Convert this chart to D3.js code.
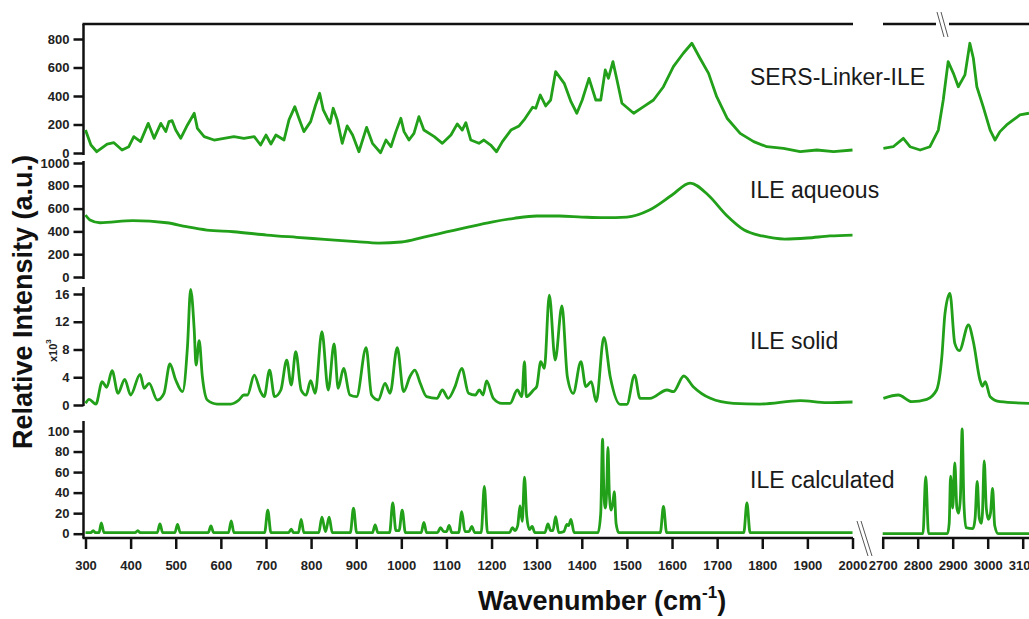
<!DOCTYPE html>
<html>
<head>
<meta charset="utf-8">
<script src="https://cdn.jsdelivr.net/npm/d3@7"></script>
<style>
  body { margin: 0; background: #fff; }
  svg text { font-family: "Liberation Sans", Arial, sans-serif; }
</style>
</head>
<body>
<svg id="chart" width="1029" height="619"></svg>
<script>
// spectra: [wavenumber, intensity]
const sersLeft = [[300,161],[312,56],[325,9],[348,63],[363,72],[381,21],[396,44],[407,115],[422,80],[439,208],[452,103],[467,208],[478,150],[485,220],[492,227],[500,161],[511,103],[526,197],[541,279],[548,173],[563,115],[585,91],[607,103],[629,115],[651,103],[674,115],[688,56],[700,126],[711,63],[722,126],[740,91],[751,232],[764,325],[773,244],[784,150],[799,220],[810,337],[819,419],[827,302],[836,244],[842,208],[849,314],[858,232],[869,68],[880,190],[892,126],[906,9],[923,180],[936,68],[954,2],[966,91],[977,44],[988,150],[999,244],[1006,150],[1017,91],[1028,138],[1039,255],[1050,161],[1073,115],[1091,68],[1110,126],[1124,204],[1135,161],[1143,213],[1154,91],[1172,68],[1183,91],[1198,56],[1211,9],[1224,80],[1243,161],[1261,190],[1272,232],[1291,321],[1298,314],[1308,407],[1320,330],[1331,372],[1342,571],[1361,489],[1376,360],[1389,279],[1401,372],[1416,524],[1431,372],[1442,372],[1452,583],[1459,524],[1469,641],[1478,512],[1489,349],[1515,279],[1537,325],[1559,372],[1581,465],[1603,606],[1625,700],[1644,770],[1662,665],[1681,559],[1699,395],[1722,244],[1751,138],[1781,80],[1810,44],[1847,33],[1884,9],[1921,21],[1958,9],[2000,21]];
const sersRight = [[2702,33],[2730,44],[2759,103],[2778,44],[2807,21],[2835,44],[2859,161],[2873,372],[2887,641],[2902,559],[2916,465],[2935,548],[2949,770],[2959,665],[2969,465],[2987,325],[3007,161],[3021,91],[3035,150],[3054,197],[3073,232],[3092,267],[3118,279]];

const aqueous = [[300,544],[310,500],[332,476],[405,494],[480,476],[524,441],[569,412],[628,397],[702,368],[768,348],[830,330],[900,310],[950,298],[1000,307],[1050,350],[1100,395],[1150,440],[1200,482],[1250,515],[1300,535],[1350,535],[1400,526],[1450,520],[1500,526],[1550,588],[1600,719],[1640,824],[1680,719],[1720,544],[1760,412],[1800,360],[1850,333],[1900,342],[1950,360],[2000,368]];

// x10^3
const solidLeft = [[300,0.24],[308,0.82],[323,0.14],[337,3.36],[347,2.55],[359,4.94],[372,1.69],[387,3.70],[400,1.44],[421,4.42],[430,2.40],[441,3.13],[459,0.72],[474,1.69],[487,5.91],[500,3.60],[515,1.92],[526,8.40],[533,16.67],[541,10.8],[545,5.76],[552,9.27],[559,4.08],[570,0.72],[592,0.14],[622,0.14],[640,0.72],[651,1.44],[659,1.44],[674,4.32],[688,1.92],[696,1.20],[708,5.04],[719,1.20],[733,2.16],[746,6.48],[756,2.88],[766,7.68],[778,2.16],[789,1.44],[799,3.50],[809,1.69],[824,10.56],[838,2.16],[851,8.79],[860,2.40],[872,5.28],[886,1.44],[901,1.20],[922,8.26],[934,1.44],[949,0.72],[964,3.13],[975,1.69],[991,8.26],[1005,1.92],[1019,4.08],[1030,5.04],[1042,3.13],[1056,1.20],[1079,0.96],[1091,2.16],[1104,0.96],[1119,2.64],[1134,5.28],[1149,1.69],[1164,1.44],[1173,2.16],[1181,1.44],[1189,3.46],[1204,0.96],[1223,0.24],[1241,0.24],[1257,2.16],[1267,1.20],[1273,6.24],[1277,1.20],[1293,2.16],[1300,2.64],[1309,6.24],[1317,5.28],[1328,15.85],[1341,6.48],[1356,14.27],[1368,4.08],[1381,1.69],[1398,6.24],[1409,2.64],[1421,3.36],[1432,0.48],[1449,9.76],[1463,4.08],[1485,0.10],[1500,0.10],[1517,4.32],[1529,0.96],[1551,0.96],[1589,2.16],[1603,1.92],[1626,4.18],[1647,2.64],[1685,0.96],[1736,0.24],[1795,0.14],[1884,0.62],[1943,0.33],[2000,0.43]];
const solidRight = [[2702,0.96],[2745,1.44],[2783,0.48],[2826,0.82],[2854,2.16],[2869,6.96],[2878,13.2],[2892,16.1],[2906,8.89],[2919,7.83],[2945,11.53],[2959,9.12],[2978,3.60],[2985,2.7],[2993,3.36],[3007,1.20],[3035,0.48],[3118,0.24]];

const calcLeft = [[300,1],[312,1],[317,3],[322,1],[330,1],[335,10.5],[341,1],[410,1],[416,3],[421,1],[459,1],[465,9.5],[471,1],[498,1],[504,9],[510,1],[572,1],[578,7.5],[584,1],[617,1],[623,12.5],[629,1],[697,1],[704,23],[711,1],[750,1],[756,4.5],[761,1],[772,1],[778,14],[784,1],[817,1],[824,16],[832,2],[840,16],[847,1],[887,1],[894,25],[901,1],[936,1],[942,8.5],[948,1],[974,1],[981,30],[988,3],[995,3],[1002,23],[1009,1],[1044,1],[1050,11],[1056,1],[1080,1],[1087,6],[1094,2],[1100,2],[1106,8],[1112,1],[1127,1],[1134,21.5],[1141,2],[1150,2],[1156,7],[1163,1],[1177,1],[1184,46],[1191,1],[1240,1],[1246,6],[1252,3],[1258,8],[1263,27],[1268,12],[1273,55],[1278,17],[1284,4],[1290,7],[1296,1],[1318,1],[1325,9.5],[1331,3],[1336,3],[1342,16.5],[1349,1],[1360,2],[1367,9],[1371,8],[1376,14],[1383,1],[1436,1],[1442,20],[1446,92],[1449,40],[1452,25],[1455,40],[1458,84],[1461,40],[1465,23],[1469,30],[1472,41],[1476,10],[1482,1],[1574,1],[1581,26.5],[1588,1],[1759,1],[1766,30],[1773,1],[2000,1]];
const calcRight = [[2700,0],[2815,0],[2823,55.5],[2831,0],[2885,0],[2890,10],[2894,56],[2900,25],[2906,69],[2912,25],[2917,20],[2922,35],[2927,102],[2932,30],[2938,6],[2958,5],[2964,15],[2970,51],[2976,15],[2982,10],[2985,20],[2990,71],[2996,25],[3002,14],[3008,20],[3014,44],[3020,8],[3030,0],[3118,0]];

const sersTicks = [0,200,400,600,800];
const aqueousTicks = [0,200,400,600,800,1000];
const solidTicks = [0,4,8,12,16];
const calcTicks = [0,20,40,60,80,100];
const xTicksLeft = d3.range(300, 2001, 100);
const xTicksRight = [2700,2800,2900,3000,3100];

const green = "#22a01a";
const svg = d3.select("#chart");

const xL = d3.scaleLinear().domain([300, 2000]).range([85.5, 852.5]);
const xR = d3.scaleLinear().domain([2700, 3100]).range([882.7, 1022.7]);
const axisX = 83.5;

const panels = [
  { left: sersLeft, right: sersRight, domain: [0, 800], range: [153, 39], seg: [24, 155], ticks: sersTicks, label: "SERS-Linker-ILE", labelY: 85, curve: d3.curveLinear },
  { left: aqueous, right: null, domain: [0, 1000], range: [277, 163], seg: [161, 279], ticks: aqueousTicks, label: "ILE aqueous", labelY: 198, curve: d3.curveMonotoneX },
  { left: solidLeft, right: solidRight, domain: [0, 16], range: [405, 294], seg: [287, 406], ticks: solidTicks, label: "ILE solid", labelY: 349, curve: d3.curveMonotoneX },
  { left: calcLeft, right: calcRight, domain: [0, 100], range: [533.7, 431], seg: [421, 538], ticks: calcTicks, label: "ILE calculated", labelY: 488, curve: d3.curveMonotoneX }
];

panels.forEach(function (p) {
  const y = d3.scaleLinear().domain(p.domain).range(p.range);

  const g = svg.append("g")
    .attr("transform", `translate(${axisX},0)`)
    .call(d3.axisLeft(y).tickValues(p.ticks).tickSize(10).tickPadding(4).tickFormat(d3.format("d")));
  g.select(".domain").remove();
  g.selectAll(".tick line").attr("stroke", "#111").attr("stroke-width", 2.5);
  g.selectAll(".tick text")
    .attr("fill", "#222")
    .style("font-size", "13px")
    .style("font-weight", "bold");

  svg.append("line")
    .attr("x1", axisX).attr("x2", axisX)
    .attr("y1", p.seg[0]).attr("y2", p.seg[1])
    .attr("stroke", "#111").attr("stroke-width", 2.5);

  const lineL = d3.line().x(d => xL(d[0])).y(d => y(d[1])).curve(p.curve);
  svg.append("path")
    .datum(p.left)
    .attr("d", lineL)
    .attr("fill", "none")
    .attr("stroke", green)
    .attr("stroke-width", 2.8)
    .attr("stroke-linejoin", "round");

  if (p.right) {
    const lineR = d3.line().x(d => xR(d[0])).y(d => y(d[1])).curve(p.curve);
    svg.append("path")
      .datum(p.right)
      .attr("d", lineR)
      .attr("fill", "none")
      .attr("stroke", green)
      .attr("stroke-width", 2.8)
      .attr("stroke-linejoin", "round");
  }

  svg.append("text")
    .attr("x", 750)
    .attr("y", p.labelY)
    .attr("fill", "#1a1a1a")
    .style("font-size", "23px")
    .text(p.label);
});

// bottom axis, two segments
function bottomAxis(scale, ticks, x0, x1) {
  const g = svg.append("g")
    .attr("transform", "translate(0,538)")
    .call(d3.axisBottom(scale).tickValues(ticks).tickSize(11).tickPadding(12).tickFormat(d3.format("d")));
  g.select(".domain").remove();
  g.selectAll(".tick line").attr("stroke", "#111").attr("stroke-width", 2.5);
  g.selectAll(".tick text")
    .attr("fill", "#222")
    .style("font-size", "13px")
    .style("font-weight", "bold");
  svg.append("line")
    .attr("x1", x0).attr("x2", x1)
    .attr("y1", 538).attr("y2", 538)
    .attr("stroke", "#111").attr("stroke-width", 2.5);
}
bottomAxis(xL, xTicksLeft, axisX - 1, 853);
bottomAxis(xR, xTicksRight, 882, 1029);

// top frame line with gaps
[[axisX - 1, 853], [883, 936], [949, 1029]].forEach(function (s) {
  svg.append("line")
    .attr("x1", s[0]).attr("x2", s[1])
    .attr("y1", 24).attr("y2", 24)
    .attr("stroke", "#111").attr("stroke-width", 2.5);
});

// break marks
[[857, 521, 868, 556], [861, 521, 872, 556], [937, 12, 944, 37], [941, 12, 948, 37]].forEach(function (b) {
  svg.append("line")
    .attr("x1", b[0]).attr("y1", b[1]).attr("x2", b[2]).attr("y2", b[3])
    .attr("stroke", "#555").attr("stroke-width", 1);
});

// x10^3 for the solid panel
const mult = svg.append("text")
  .attr("transform", "translate(57,362) rotate(-90)")
  .attr("fill", "#222")
  .style("font-size", "11px")
  .style("font-weight", "bold");
mult.append("tspan").text("x10");
mult.append("tspan").attr("dy", -6).style("font-size", "8px").text("3");

// axis titles
svg.append("text")
  .attr("transform", "translate(32,302) rotate(-90)")
  .attr("text-anchor", "middle")
  .attr("fill", "#111")
  .style("font-size", "27px")
  .style("font-weight", "bold")
  .text("Relative Intensity (a.u.)");

const xt = svg.append("text")
  .attr("x", 478)
  .attr("y", 610)
  .attr("fill", "#111")
  .style("font-size", "27px")
  .style("font-weight", "bold");
xt.append("tspan").text("Wavenumber (cm");
xt.append("tspan").attr("dy", -12).style("font-size", "17px").text("-1");
xt.append("tspan").attr("dy", 12).text(")");
</script>
</body>
</html>
